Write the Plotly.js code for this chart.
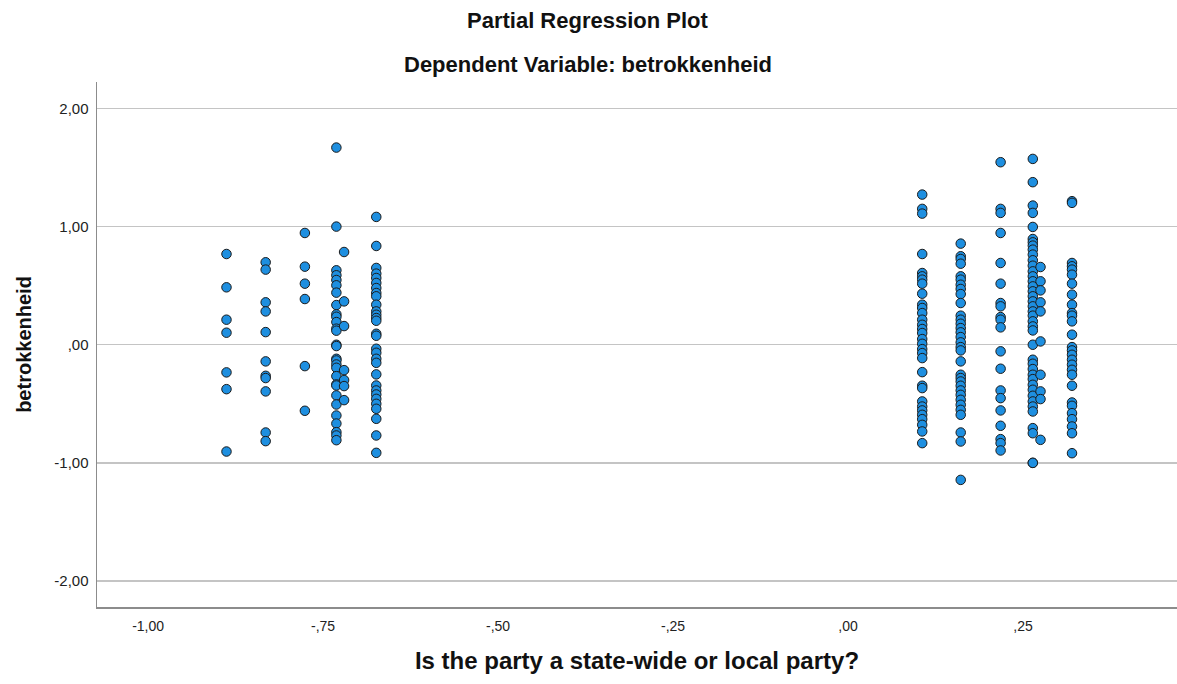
<!DOCTYPE html>
<html>
<head>
<meta charset="utf-8">
<script src="https://cdn.plot.ly/plotly-3.0.1.min.js"></script>
<style>html,body{margin:0;padding:0;background:#fff;}#chart{width:1177px;height:684px;}</style>
</head>
<body>
<div id="chart"></div>
<script>
// x value (partial residual of "state-wide or local party") for each column of points
const colX = [-0.888, -0.832, -0.776, -0.731, -0.720, -0.674, 0.106, 0.161, 0.218, 0.264, 0.275, 0.320];

// betrokkenheid residuals, one array per column
const col1 = [0.768, 0.486, 0.212, 0.102, -0.234, -0.376, -0.904];
const col2 = [0.698, 0.636, 0.359, 0.282, 0.107, -0.141, -0.263, -0.282, -0.395, -0.743, -0.816];
const col3 = [0.946, 0.661, 0.517, 0.387, -0.181, -0.559];
const col4 = [1.669, 1.000, 0.630, 0.588, 0.548, 0.503, 0.441, 0.336, 0.257, 0.237, 0.192, 0.136, 0.119, 0.000, -0.011, -0.119, -0.133, -0.167, -0.195, -0.266, -0.336, -0.345, -0.429, -0.506, -0.599, -0.667, -0.740, -0.768, -0.808];
const col5 = [0.785, 0.367, 0.158, -0.215, -0.299, -0.350, -0.469];
const col6 = [1.082, 0.836, 0.650, 0.602, 0.565, 0.523, 0.480, 0.438, 0.410, 0.339, 0.282, 0.254, 0.226, 0.203, 0.093, 0.076, -0.034, -0.068, -0.119, -0.153, -0.251, -0.345, -0.387, -0.421, -0.458, -0.500, -0.542, -0.627, -0.768, -0.915];
const col7 = [1.271, 1.150, 1.110, 0.768, 0.607, 0.579, 0.551, 0.517, 0.432, 0.339, 0.311, 0.268, 0.212, 0.169, 0.133, 0.099, 0.048, 0.008, -0.037, -0.071, -0.113, -0.232, -0.347, -0.367, -0.480, -0.523, -0.556, -0.593, -0.630, -0.678, -0.734, -0.833];
const col8 = [0.856, 0.749, 0.726, 0.686, 0.579, 0.551, 0.508, 0.472, 0.429, 0.353, 0.246, 0.212, 0.178, 0.141, 0.105, 0.065, 0.020, -0.020, -0.048, -0.141, -0.254, -0.282, -0.311, -0.347, -0.387, -0.424, -0.466, -0.508, -0.551, -0.593, -0.743, -0.819, -1.144];
const col9 = [1.545, 1.150, 1.116, 0.946, 0.692, 0.517, 0.353, 0.325, 0.234, 0.212, 0.147, -0.056, -0.203, -0.387, -0.452, -0.556, -0.686, -0.799, -0.833, -0.895];
const col10 = [1.573, 1.376, 1.178, 1.116, 0.997, 0.895, 0.867, 0.839, 0.805, 0.763, 0.715, 0.669, 0.621, 0.579, 0.537, 0.494, 0.452, 0.410, 0.367, 0.325, 0.282, 0.246, 0.198, 0.155, 0.121, 0.000, -0.127, -0.161, -0.206, -0.254, -0.291, -0.339, -0.381, -0.432, -0.480, -0.523, -0.565, -0.706, -0.749, -1.000, -1.000];
const col11 = [0.658, 0.537, 0.460, 0.359, 0.282, 0.028, -0.254, -0.395, -0.460, -0.805];
const col12 = [1.215, 1.201, 0.692, 0.664, 0.636, 0.593, 0.517, 0.424, 0.339, 0.268, 0.246, 0.198, 0.085, -0.020, -0.048, -0.085, -0.127, -0.169, -0.212, -0.254, -0.347, -0.489, -0.517, -0.579, -0.630, -0.692, -0.749, -0.918];

const columns = [col1, col2, col3, col4, col5, col6, col7, col8, col9, col10, col11, col12];

// tick labels
const yTickVals = [2, 1, 0, -1, -2];
const yTickText = ["2,00", "1,00", ",00", "-1,00", "-2,00"];
const xTickVals = [-1, -0.75, -0.5, -0.25, 0, 0.25];
const xTickText = ["-1,00", "-,75", "-,50", "-,25", ",00", ",25"];

const titleMain = "Partial Regression Plot";
const titleSub = "Dependent Variable: betrokkenheid";
const xTitle = "Is the party a state-wide or local party?";
const yTitle = "betrokkenheid";

const xs = [], ys = [];
columns.forEach((c, i) => { c.forEach(v => { xs.push(colX[i]); ys.push(v); }); });

const trace = {
  type: "scatter", mode: "markers", x: xs, y: ys,
  marker: { size: 9.5, color: "#1e8fe0", line: { color: "#1b1b1b", width: 1 } },
  hoverinfo: "x+y"
};

const font = "Arial, 'Liberation Sans', sans-serif";
const layout = {
  width: 1177, height: 684,
  margin: { l: 97, r: 0, t: 82, b: 77 },
  paper_bgcolor: "#ffffff", plot_bgcolor: "#ffffff",
  showlegend: false,
  font: { family: font, color: "#222" },
  xaxis: {
    range: [-1.073, 0.470], tickvals: xTickVals, ticktext: xTickText,
    showgrid: false, zeroline: false, showline: true, linecolor: "#8c8c8c", linewidth: 1.5,
    ticks: "", ticklabelstandoff: 6, tickfont: { size: 14, color: "#222", family: font },
    title: { text: xTitle, font: { size: 24, color: "#111", family: font, weight: "bold" }, standoff: 19 }
  },
  yaxis: {
    range: [-2.22, 2.224], tickvals: yTickVals, ticktext: yTickText,
    showgrid: true, gridcolor: "#c4c4c4", gridwidth: 1.3, zeroline: false,
    showline: true, linecolor: "#8c8c8c", linewidth: 1.5,
    ticks: "", ticklabelstandoff: 4, tickfont: { size: 15, color: "#222", family: font },
    title: { text: yTitle, font: { size: 20, color: "#111", family: font, weight: "bold" }, standoff: 17 }
  },
  annotations: [
    { text: titleMain, xref: "paper", yref: "paper", x: (588 - 97) / 1080, y: (607 - 20) / 525, xanchor: "center", yanchor: "middle", showarrow: false, font: { size: 22, color: "#111", family: font, weight: "bold" } },
    { text: titleSub, xref: "paper", yref: "paper", x: (588 - 97) / 1080, y: (607 - 65) / 525, xanchor: "center", yanchor: "middle", showarrow: false, font: { size: 22, color: "#111", family: font, weight: "bold" } }
  ]
};

Plotly.newPlot("chart", [trace], layout, { displayModeBar: false, staticPlot: true });
</script>
</body>
</html>
